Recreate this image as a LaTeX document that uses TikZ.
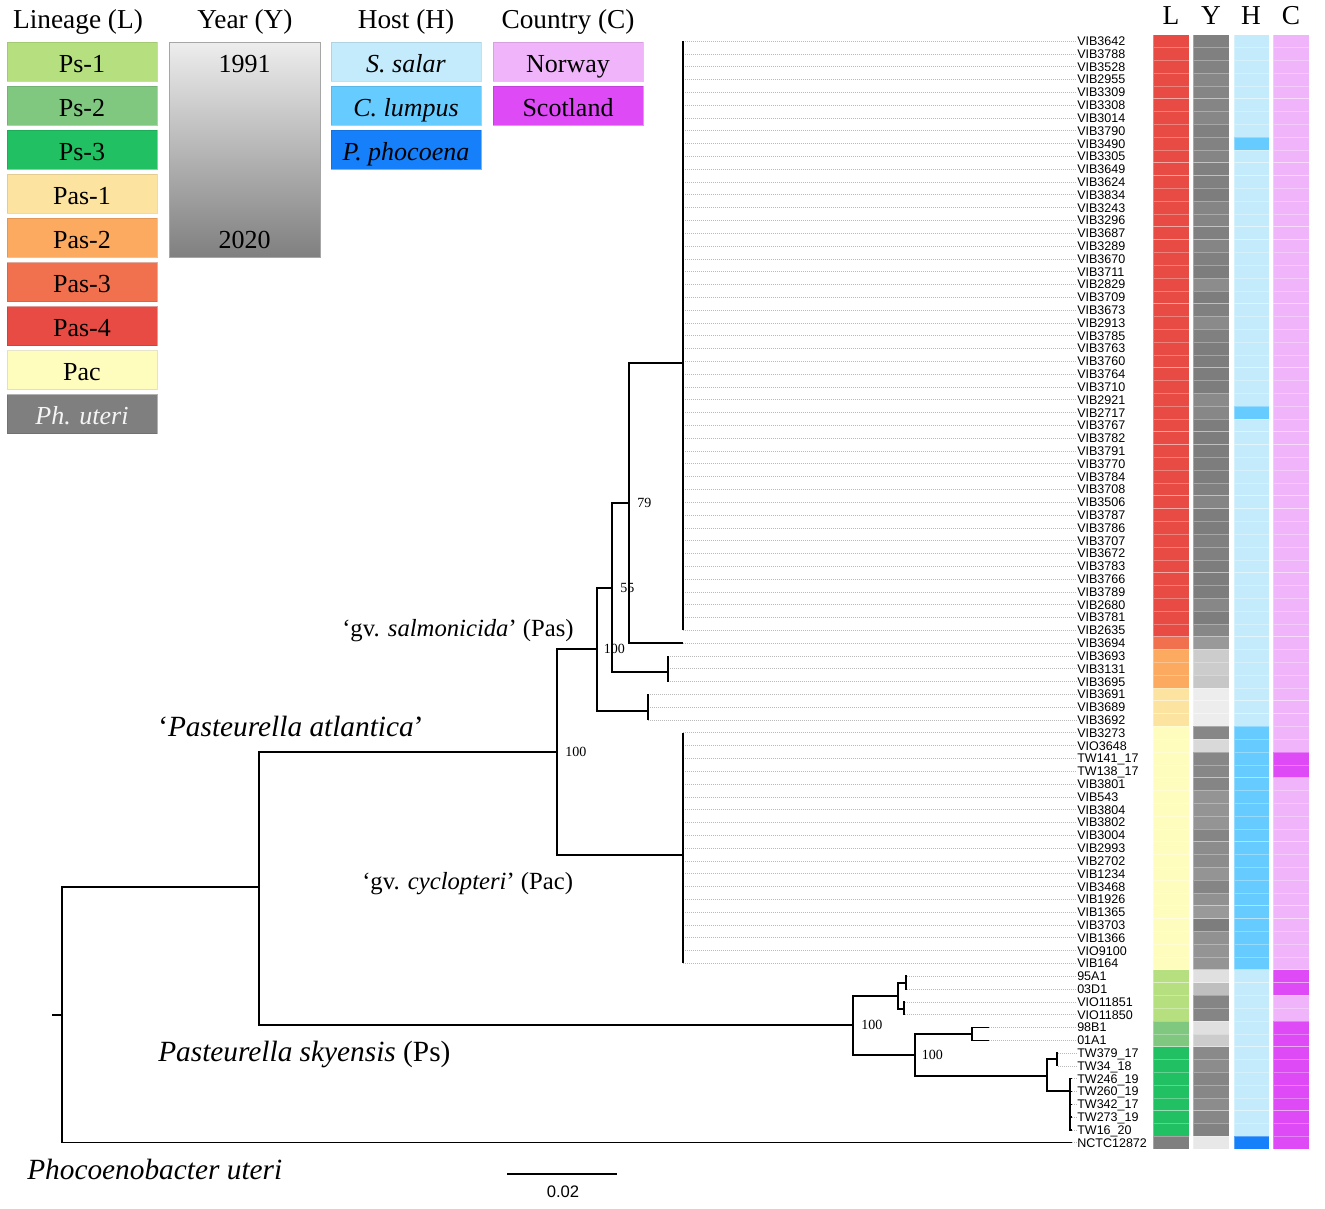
\documentclass[tikz,border=0pt]{standalone}
\usepackage{fontspec}
\setmainfont{Liberation Serif}
\setsansfont{Liberation Sans}
\usepackage{tikz}
\usetikzlibrary{calc}
\usetikzlibrary{positioning}

\definecolor{psone}{HTML}{B6E07F}
\definecolor{pstwo}{HTML}{80C77F}
\definecolor{psthree}{HTML}{21C063}
\definecolor{pasone}{HTML}{FDE3A0}
\definecolor{pastwo}{HTML}{FBAA60}
\definecolor{pasthree}{HTML}{F1714E}
\definecolor{pasfour}{HTML}{E84B43}
\definecolor{pac}{HTML}{FFFDBE}
\definecolor{phut}{HTML}{7F7F7F}
\definecolor{salar}{HTML}{C4EBFB}
\definecolor{lumpus}{HTML}{66CCFF}
\definecolor{phoc}{HTML}{1580FA}
\definecolor{norway}{HTML}{F0B4FA}
\definecolor{scotland}{HTML}{DE4AF5}

\begin{document}
\begin{tikzpicture}[x=0.75pt,y=-0.75pt,line join=miter,
  branch/.style={line width=1pt,black},
  leader/.style={dash pattern=on 0.6pt off 0.9pt,line width=0.4pt,gray!55},
  tiplab/.style={anchor=west,inner sep=0pt,text height=6.8pt,text depth=0pt,font=\sffamily\fontsize{9.4}{10}\selectfont},
  cell/.style={fill=#1,draw=white,draw opacity=0.3,line width=0.4pt},
  legbox/.style={fill=#1,draw=#1!80!black,draw opacity=0.5,line width=0.6pt,minimum width=112.5pt,minimum height=29.25pt,inner sep=0pt,text height=15.75pt,text depth=0pt,font=\fontsize{19.5}{22}\selectfont},
  legtitle/.style={anchor=base,inner sep=0pt,font=\fontsize{20.5}{24}\selectfont},
  boot/.style={inner sep=0pt,font=\fontsize{10.5}{12}\selectfont},
  clade/.style={anchor=base west,inner sep=0pt,font=\fontsize{22}{26}\selectfont},
  gvlab/.style={anchor=base west,inner sep=0pt,font=\fontsize{18.5}{22}\selectfont}]
\useasboundingbox (0,0) rectangle (1325,1208);

\node[legtitle] (tLin) at (78,28) {Lineage (L)};
\node[legtitle] (tYear) at (245,28) {Year (Y)};
\node[legtitle] (tHost) at (406,28) {Host (H)};
\node[legtitle] (tCountry) at (568,28) {Country (C)};
\node[legbox=psone] (lPsOne) at (82,61.5) {Ps-1};
\node[legbox=pstwo] (lPsTwo) at (82,105.6) {Ps-2};
\node[legbox=psthree] (lPsThree) at (82,149.7) {Ps-3};
\node[legbox=pasone] (lPasOne) at (82,193.8) {Pas-1};
\node[legbox=pastwo] (lPasTwo) at (82,237.9) {Pas-2};
\node[legbox=pasthree] (lPasThree) at (82,282) {Pas-3};
\node[legbox=pasfour] (lPasFour) at (82,326.1) {Pas-4};
\node[legbox=pac] (lPac) at (82,370.2) {Pac};
\node[legbox=phut,text=white!92!gray] (lPhut) at (82,414.3) {\textit{Ph. uteri}};
\node[draw=gray!70,line width=0.5pt,top color=black!7,bottom color=black!50,minimum width=113.25pt,minimum height=161.25pt,inner sep=0pt] (lYear) at (244.5,149.5) {};
\node[legtitle,font=\fontsize{19.5}{22}\selectfont] (lYearA) at (244.5,72) {1991};
\node[legtitle,font=\fontsize{19.5}{22}\selectfont] (lYearB) at (244.5,248) {2020};
\node[legbox=salar] (lSalar) at (406,61.5) {\textit{S. salar}};
\node[legbox=lumpus] (lLumpus) at (406,105.6) {\textit{C. lumpus}};
\node[legbox=phoc] (lPhoc) at (406,149.7) {\textit{P. phocoena}};
\node[legbox=norway] (lNorway) at (568,61.5) {Norway};
\node[legbox=scotland] (lScotland) at (568,105.6) {Scotland};

\node[legtitle] (hL) at (1171,24) {L};
\node[legtitle] (hY) at (1211,24) {Y};
\node[legtitle] (hH) at (1251,24) {H};
\node[legtitle] (hC) at (1291,24) {C};

\foreach \nm/\tx/\lin/\gy/\hst/\cty [count=\i] in {
VIB3642/683/pasfour/50/salar/norway, VIB3788/683/pasfour/50/salar/norway,
VIB3528/683/pasfour/49/salar/norway, VIB2955/683/pasfour/47/salar/norway,
VIB3309/683/pasfour/48/salar/norway, VIB3308/683/pasfour/48/salar/norway,
VIB3014/683/pasfour/47/salar/norway, VIB3790/683/pasfour/50/salar/norway,
VIB3490/683/pasfour/49/lumpus/norway, VIB3305/683/pasfour/48/salar/norway,
VIB3649/683/pasfour/50/salar/norway, VIB3624/683/pasfour/50/salar/norway,
VIB3834/683/pasfour/51/salar/norway, VIB3243/683/pasfour/48/salar/norway,
VIB3296/683/pasfour/48/salar/norway, VIB3687/683/pasfour/50/salar/norway,
VIB3289/683/pasfour/48/salar/norway, VIB3670/683/pasfour/50/salar/norway,
VIB3711/683/pasfour/51/salar/norway, VIB2829/683/pasfour/45/salar/norway,
VIB3709/683/pasfour/51/salar/norway, VIB3673/683/pasfour/50/salar/norway,
VIB2913/683/pasfour/46/salar/norway, VIB3785/683/pasfour/50/salar/norway,
VIB3763/683/pasfour/51/salar/norway, VIB3760/683/pasfour/51/salar/norway,
VIB3764/683/pasfour/51/salar/norway, VIB3710/683/pasfour/51/salar/norway,
VIB2921/683/pasfour/46/salar/norway, VIB2717/683/pasfour/47/lumpus/norway,
VIB3767/683/pasfour/51/salar/norway, VIB3782/683/pasfour/51/salar/norway,
VIB3791/683/pasfour/51/salar/norway, VIB3770/683/pasfour/51/salar/norway,
VIB3784/683/pasfour/51/salar/norway, VIB3708/683/pasfour/50/salar/norway,
VIB3506/683/pasfour/48/salar/norway, VIB3787/683/pasfour/51/salar/norway,
VIB3786/683/pasfour/51/salar/norway, VIB3707/683/pasfour/50/salar/norway,
VIB3672/683/pasfour/50/salar/norway, VIB3783/683/pasfour/51/salar/norway,
VIB3766/683/pasfour/51/salar/norway, VIB3789/683/pasfour/51/salar/norway,
VIB2680/683/pasfour/47/salar/norway, VIB3781/683/pasfour/51/salar/norway,
VIB2635/683/pasfour/47/salar/norway, VIB3694/683/pasthree/40/salar/norway,
VIB3693/668/pastwo/20/salar/norway, VIB3131/668/pastwo/20/salar/norway,
VIB3695/668/pastwo/22/salar/norway, VIB3691/648/pasone/7/salar/norway,
VIB3689/648/pasone/7/salar/norway, VIB3692/648/pasone/7/salar/norway,
VIB3273/683/pac/47/lumpus/norway, VIO3648/683/pac/15/lumpus/norway,
TW141\_17/683/pac/47/lumpus/scotland, TW138\_17/683/pac/47/lumpus/scotland,
VIB3801/683/pac/48/lumpus/norway, VIB543/683/pac/42/lumpus/norway,
VIB3804/683/pac/42/lumpus/norway, VIB3802/683/pac/42/lumpus/norway,
VIB3004/683/pac/48/lumpus/norway, VIB2993/683/pac/45/lumpus/norway,
VIB2702/683/pac/45/lumpus/norway, VIB1234/683/pac/42/lumpus/norway,
VIB3468/683/pac/48/lumpus/norway, VIB1926/683/pac/43/lumpus/norway,
VIB1365/683/pac/40/lumpus/norway, VIB3703/683/pac/51/lumpus/norway,
VIB1366/683/pac/43/lumpus/norway, VIO9100/683/pac/42/lumpus/norway,
VIB164/683/pac/42/lumpus/norway, 95A1/907/psone/12/salar/scotland,
03D1/907/psone/25/salar/scotland, VIO11851/905/psone/48/salar/norway,
VIO11850/905/psone/48/salar/norway, 98B1/989/pstwo/12/salar/scotland,
01A1/989/pstwo/20/salar/scotland, TW379\_17/1058/psthree/46/salar/scotland,
TW34\_18/1058/psthree/45/salar/scotland, TW246\_19/1072/psthree/48/salar/scotland,
TW260\_19/1072/psthree/47/salar/scotland, TW342\_17/1072/psthree/45/salar/scotland,
TW273\_19/1072/psthree/47/salar/scotland, TW16\_20/1072/psthree/49/salar/scotland,
NCTC12872/1072/phut/9/phoc/scotland}
{
\pgfmathsetmacro\ty{41+(\i-1)*12.81}
\pgfmathsetmacro\ta{\ty-6.405}
\pgfmathsetmacro\tb{\ty+6.405}
\coordinate (tip\i) at (\tx,\ty);
\node[tiplab] (lab\i) at (1077,\ty) {\nm};
\draw[leader] (tip\i) -- (lab\i.west);
\filldraw[cell=\lin] (1153,\ta) rectangle (1189,\tb);
\filldraw[cell=black!\gy!white] (1193,\ta) rectangle (1229,\tb);
\filldraw[cell=\hst] (1234,\ta) rectangle (1269,\tb);
\filldraw[cell=\cty] (1273,\ta) rectangle (1309,\tb);
}

\coordinate (rootstub) at (52,1015);
\coordinate (root) at (62,1015);
\coordinate (nPast) at (259,887);
\coordinate (nAtl) at (557,752);
\coordinate (nSalm) at (597,649);
\coordinate (nFF) at (612,588);
\coordinate (nSN) at (629,503);
\coordinate (nPasFour) at (683,363);
\coordinate (nPasTwo) at (668,672);
\coordinate (nPasOne) at (648,711);
\coordinate (nPac) at (683,855);
\coordinate (nSky) at (853,1025);
\coordinate (nPsOne) at (898,996);
\coordinate (nPsOneA) at (906,983);
\coordinate (nPsOneB) at (904,1009);
\coordinate (nPsTT) at (915,1055);
\coordinate (nPsTwo) at (972,1034);
\coordinate (nPsThree) at (1047,1076);
\coordinate (nPsThreeA) at (1057,1059);
\coordinate (nPsThreeB) at (1070,1091);

\draw[branch] (rootstub) -- (root);
\draw[branch] (root) |- (nPast);
\draw[branch] (root) |- (tip87);
\draw[branch] (nPast) |- (nAtl);
\draw[branch] (nPast) |- (nSky);
\draw[branch] (nAtl) |- (nSalm);
\draw[branch] (nAtl) |- (nPac);
\draw[branch] (nSalm) |- (nFF);
\draw[branch] (nSalm) |- (nPasOne);
\draw[branch] (nFF) |- (nSN);
\draw[branch] (nFF) |- (nPasTwo);
\draw[branch] (nSN) |- (nPasFour);
\draw[branch] (nSN) |- (tip48);
\foreach \i in {1,...,47} \draw[branch] (nPasFour) |- (tip\i);
\foreach \i in {49,50,51} \draw[branch] (nPasTwo) |- (tip\i);
\foreach \i in {52,53,54} \draw[branch] (nPasOne) |- (tip\i);
\foreach \i in {55,...,73} \draw[branch] (nPac) |- (tip\i);
\draw[branch] (nSky) |- (nPsOne);
\draw[branch] (nSky) |- (nPsTT);
\draw[branch] (nPsOne) |- (nPsOneA);
\draw[branch] (nPsOne) |- (nPsOneB);
\foreach \i in {74,75} \draw[branch] (nPsOneA) |- (tip\i);
\foreach \i in {76,77} \draw[branch] (nPsOneB) |- (tip\i);
\draw[branch] (nPsTT) |- (nPsTwo);
\draw[branch] (nPsTT) |- (nPsThree);
\foreach \i in {78,79} \draw[branch] (nPsTwo) |- (tip\i);
\draw[branch] (nPsThree) |- (nPsThreeA);
\draw[branch] (nPsThree) |- (nPsThreeB);
\foreach \i in {80,81} \draw[branch] (nPsThreeA) |- (tip\i);
\foreach \i in {82,...,86} \draw[branch] (nPsThreeB) |- (tip\i);

\node[boot,right=6pt of nSN] (bSN) {79};
\node[boot,right=6pt of nFF] (bFF) {55};
\node[boot,right=5pt of nSalm] (bSalm) {100};
\node[boot,right=6pt of nAtl] (bAtl) {100};
\node[boot,right=6pt of nSky] (bSky) {100};
\node[boot,right=5pt of nPsTT] (bPsTT) {100};

\node[gvlab] (cSalm) at (342,636) {‘gv. \textit{salmonicida}’ (Pas)};
\node[clade] (cAtl) at (158,736) {‘\textit{Pasteurella atlantica}’};
\node[gvlab] (cCyc) at (362,889) {‘gv. \textit{cyclopteri}’ (Pac)};
\node[clade] (cSky) at (158,1061) {\textit{Pasteurella skyensis} (Ps)};
\node[clade] (cPho) at (27,1179) {\textit{Phocoenobacter uteri}};

\coordinate (sbL) at (507,1174);
\coordinate (sbR) at (617,1174);
\draw[line width=0.8pt] (sbL) -- (sbR);
\node[inner sep=0pt,font=\sffamily\fontsize{12.5}{14}\selectfont] (sbLab) at (563,1192) {0.02};
\end{tikzpicture}
\end{document}
